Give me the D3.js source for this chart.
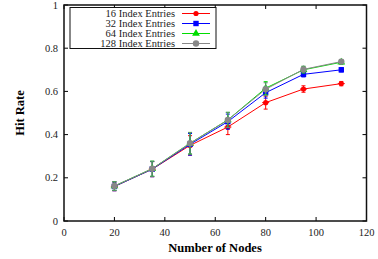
<!DOCTYPE html>
<html>
<head>
<meta charset="utf-8">
<script src="https://cdn.jsdelivr.net/npm/d3@7"></script>
<style>
  html, body { margin: 0; padding: 0; background: #fff; }
  svg { display: block; font-family: "Liberation Serif", "Times New Roman", serif; }
</style>
</head>
<body>
<svg id="chart" width="378" height="259"></svg>
<script>
const nodes = [20, 35, 50, 65, 80, 95, 110];
const seriesNames = ["16 Index Entries", "32 Index Entries", "64 Index Entries", "128 Index Entries"];
const seriesColors = ["#ff0000", "#0000ff", "#00dd00", "#888888"];
const seriesShapes = ["diamond", "square", "triangle", "circle"];
const hit16 = [0.160, 0.240, 0.350, 0.435, 0.548, 0.611, 0.636];
const hit32 = [0.160, 0.240, 0.355, 0.460, 0.594, 0.679, 0.700];
const hit64 = [0.162, 0.242, 0.360, 0.468, 0.615, 0.700, 0.735];
const hit128 = [0.162, 0.242, 0.360, 0.468, 0.610, 0.702, 0.738];
const err16 = [0.020, 0.035, 0.045, 0.035, 0.030, 0.015, 0.010];
const err32 = [0.020, 0.035, 0.050, 0.035, 0.025, 0.012, 0.010];
const err64 = [0.020, 0.035, 0.050, 0.035, 0.030, 0.015, 0.010];
const err128 = [0.020, 0.035, 0.050, 0.035, 0.030, 0.015, 0.010];
const xTicks = [0, 20, 40, 60, 80, 100, 120];
const yTicks = [0, 0.2, 0.4, 0.6, 0.8, 1];

const values = [hit16, hit32, hit64, hit128];
const errors = [err16, err32, err64, err128];

const svg = d3.select("#chart");
const x = d3.scaleLinear().domain([0, 120]).range([64, 366.5]);
const y = d3.scaleLinear().domain([0, 1]).range([221, 5]);

// ticks (inward, on all four sides)
const tk = 4;
const g = svg.append("g");
xTicks.forEach((t) => {
  g.append("line").attr("x1", x(t)).attr("x2", x(t)).attr("y1", y(0)).attr("y2", y(0) - tk).attr("stroke", "#000");
  g.append("line").attr("x1", x(t)).attr("x2", x(t)).attr("y1", y(1)).attr("y2", y(1) + tk).attr("stroke", "#000");
  g.append("text").attr("x", x(t)).attr("y", y(0) + 15).attr("text-anchor", "middle")
    .attr("font-size", 10.5).attr("fill", "#222").text(t);
});
yTicks.forEach((t) => {
  g.append("line").attr("x1", x(0)).attr("x2", x(0) + tk).attr("y1", y(t)).attr("y2", y(t)).attr("stroke", "#000");
  g.append("line").attr("x1", x(120)).attr("x2", x(120) - tk).attr("y1", y(t)).attr("y2", y(t)).attr("stroke", "#000");
  g.append("text").attr("x", x(0) - 6).attr("y", y(t) + 3.5).attr("text-anchor", "end")
    .attr("font-size", 10.5).attr("fill", "#222").text(t);
});

// frame
svg.append("rect").attr("x", x(0)).attr("y", y(1)).attr("width", x(120) - x(0)).attr("height", y(0) - y(1))
  .attr("fill", "none").attr("stroke", "#111").attr("stroke-width", 1.5);

// axis titles
svg.append("text").attr("x", 215).attr("y", 252).attr("text-anchor", "middle")
  .attr("font-size", 12.5).attr("font-weight", "bold").text("Number of Nodes");
svg.append("text").attr("transform", `translate(24,${y(0.5)}) rotate(-90)`).attr("text-anchor", "middle")
  .attr("font-size", 12.5).attr("font-weight", "bold").text("Hit Rate");

function marker(sel, shape, color) {
  if (shape === "square") {
    sel.append("rect").attr("x", -2.7).attr("y", -2.7).attr("width", 5.4).attr("height", 5.4).attr("fill", color);
  } else if (shape === "triangle") {
    sel.append("path").attr("d", d3.symbol(d3.symbolTriangle, 26)()).attr("fill", color);
  } else if (shape === "circle") {
    sel.append("circle").attr("r", 3.2).attr("fill", color);
  } else {
    sel.append("circle").attr("r", 2.6).attr("fill", color);
    sel.append("line").attr("x1", -3.5).attr("x2", 3.5).attr("stroke", color).attr("stroke-width", 1);
  }
}

const line = d3.line().x((d) => x(d[0])).y((d) => y(d[1]));
values.forEach((vals, i) => {
  const c = seriesColors[i];
  const sg = svg.append("g");
  const pts = nodes.map((n, j) => [n, vals[j], errors[i][j]]);
  sg.append("path").attr("d", line(pts)).attr("fill", "none").attr("stroke", c).attr("stroke-width", 1);
  pts.forEach((p) => {
    const eg = sg.append("g").attr("stroke", i === 3 ? "#5f8f6f" : c).attr("stroke-width", 1);
    eg.append("line").attr("x1", x(p[0])).attr("x2", x(p[0])).attr("y1", y(p[1] - p[2])).attr("y2", y(p[1] + p[2]));
    [p[1] - p[2], p[1] + p[2]].forEach((v) => {
      eg.append("line").attr("x1", x(p[0]) - 2).attr("x2", x(p[0]) + 2).attr("y1", y(v)).attr("y2", y(v));
    });
    marker(sg.append("g").attr("transform", `translate(${x(p[0])},${y(p[1])})`), seriesShapes[i], c);
  });
});

// legend
const lg = svg.append("g");
lg.append("rect").attr("x", 70).attr("y", 7.5).attr("width", 146).attr("height", 41)
  .attr("fill", "#fff").attr("stroke", "#111").attr("stroke-width", 1);
seriesNames.forEach((name, i) => {
  const yy = 13.5 + i * 10;
  lg.append("text").attr("x", 175).attr("y", yy + 3.5).attr("text-anchor", "end")
    .attr("font-size", 10.5).attr("fill", "#222").text(name);
  lg.append("line").attr("x1", 182).attr("x2", 210).attr("y1", yy).attr("y2", yy)
    .attr("stroke", seriesColors[i]).attr("stroke-width", 1);
  marker(lg.append("g").attr("transform", `translate(196,${yy})`), seriesShapes[i], seriesColors[i]);
});
</script>
</body>
</html>
